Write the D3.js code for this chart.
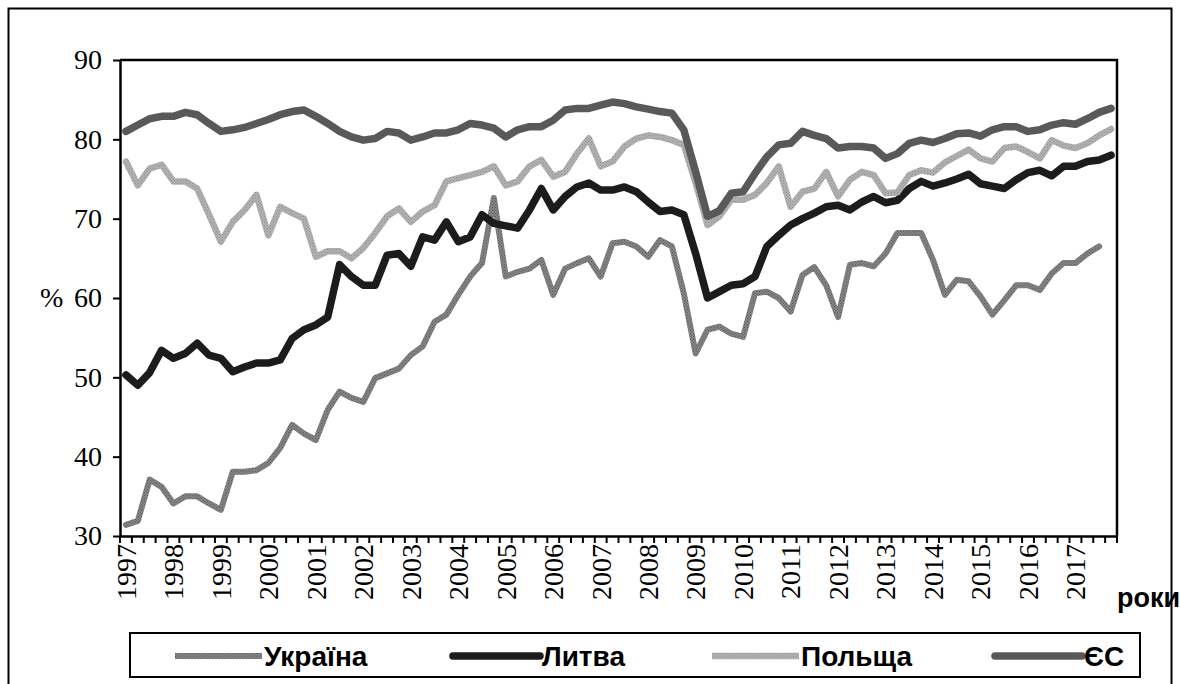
<!DOCTYPE html>
<html>
<head>
<meta charset="UTF-8">
<title></title>
<script src="https://cdn.jsdelivr.net/npm/d3@7"></script>
<style>
  body{margin:0;background:#fff;}
  .serif{font-family:"Liberation Serif","Tinos","Times New Roman","DejaVu Serif",serif;}
  .sans{font-family:"Liberation Sans",Arial,"DejaVu Sans",sans-serif;font-weight:bold;}
</style>
</head>
<body>
<div id="chart"></div>
<script>
// роки, підписи на осі X
var years=["1997","1998","1999","2000","2001","2002","2003","2004","2005","2006","2007",
  "2008","2009","2010","2011","2012","2013","2014","2015","2016","2017"];
var quarters=["I","II","III","IV"];
var yTicks=[30,40,50,60,70,80,90];

// квартальні значення, %
var ukraine=[31.4,31.9,37.1,36.2,34.1,35.0,35.0,34.1,33.3,38.1,38.1,38.3,39.2,41.1,44.0,42.9,42.1,45.9,48.2,47.4,46.9,
  49.9,50.5,51.1,52.8,53.9,57.0,57.9,60.4,62.7,64.4,72.6,62.7,63.3,63.7,64.8,60.4,63.7,64.4,65.0,62.7,66.9,
  67.1,66.5,65.2,67.3,66.5,60.6,53.0,56.0,56.4,55.5,55.1,60.6,60.8,60.0,58.3,62.9,63.9,61.6,57.6,64.2,64.4,
  64.0,65.6,68.2,68.2,68.2,64.8,60.4,62.3,62.1,60.2,57.9,59.7,61.6,61.6,61.0,63.1,64.4,64.4,65.6,66.5];
var lithuania=[50.3,49.0,50.6,53.4,52.4,53.0,54.3,52.8,52.4,50.7,51.3,51.8,51.8,52.2,54.9,56.0,56.6,57.6,64.2,62.7,61.6,
  61.6,65.4,65.6,64.0,67.7,67.3,69.6,67.1,67.7,70.5,69.4,69.1,68.8,71.1,73.8,71.1,72.8,74.0,74.5,73.6,73.6,
  74.0,73.4,72.1,70.9,71.1,70.5,65.6,60.0,60.8,61.6,61.8,62.7,66.5,67.9,69.2,70.0,70.7,71.5,71.7,71.1,72.1,
  72.8,72.0,72.3,73.8,74.7,74.1,74.5,75.0,75.6,74.4,74.1,73.8,74.9,75.8,76.1,75.4,76.6,76.6,77.2,77.4,78.0];
var poland=[77.2,74.2,76.3,76.8,74.7,74.7,73.8,70.5,67.1,69.6,71.1,73.0,67.9,71.5,70.7,70.0,65.2,65.9,65.9,65.0,66.3,
  68.2,70.3,71.3,69.6,70.9,71.7,74.7,75.1,75.5,75.9,76.6,74.2,74.7,76.6,77.4,75.3,75.9,78.2,80.1,76.6,77.2,
  79.1,80.1,80.5,80.3,79.9,79.3,74.5,69.2,70.3,72.4,72.4,73.0,74.5,76.6,71.5,73.4,73.8,75.9,72.8,74.9,75.9,
  75.5,73.2,73.3,75.5,76.1,75.8,77.1,77.9,78.7,77.6,77.2,78.9,79.1,78.4,77.6,79.9,79.2,78.9,79.5,80.5,81.3];
var eu=[81.0,81.8,82.6,82.9,82.9,83.4,83.1,82.0,81.0,81.2,81.5,82.0,82.5,83.1,83.5,83.7,82.9,82.0,81.0,80.3,79.9,
  80.1,81.0,80.8,79.9,80.3,80.8,80.8,81.2,82.0,81.8,81.4,80.3,81.2,81.6,81.6,82.4,83.7,83.9,83.9,84.3,84.7,
  84.5,84.1,83.8,83.5,83.3,81.2,75.9,70.3,71.0,73.2,73.4,75.7,77.8,79.3,79.5,81.0,80.5,80.1,78.9,79.1,79.1,
  78.9,77.6,78.2,79.5,79.9,79.6,80.1,80.7,80.8,80.4,81.2,81.6,81.6,81.0,81.2,81.8,82.1,81.9,82.6,83.4,83.9];

var seriesNames=["Україна","Литва","Польща","ЄС"];

var width=1180,height=684;
var plot={left:120,right:1117,top:60,bottom:536};

// категорії: рік + квартал
var cats=[];
years.forEach(function(y){ quarters.forEach(function(q){ cats.push(y+" "+q); }); });

var svg=d3.select("#chart").append("svg")
  .attr("width",width).attr("height",height);

// текстури для сірих ліній
var defs=svg.append("defs");
function texture(id,base,dot){
  var p=defs.append("pattern").attr("id",id).attr("patternUnits","userSpaceOnUse")
    .attr("width",3).attr("height",3);
  p.append("rect").attr("width",3).attr("height",3).attr("fill",base);
  p.append("rect").attr("x",0).attr("y",0).attr("width",1).attr("height",1).attr("fill",dot);
  p.append("rect").attr("x",1.5).attr("y",1.5).attr("width",1).attr("height",1).attr("fill",dot);
}
texture("texUkr","#858585","#5a5a5a");
texture("texPol","#b3b3b3","#8e8e8e");

// зовнішня рамка
svg.append("rect").attr("x",8.5).attr("y",8.5).attr("width",1163).attr("height",720)
  .attr("fill","none").attr("stroke","#000").attr("stroke-width",2);

var x=d3.scaleBand().domain(cats).range([plot.left,plot.right]);
var y=d3.scaleLinear().domain([30,90]).range([plot.bottom,plot.top]);

// рамка області побудови
svg.append("path")
  .attr("d","M"+plot.left+","+plot.top+"H"+plot.right+"V"+plot.bottom)
  .attr("fill","none").attr("stroke","#000").attr("stroke-width",2.5);

// вісь Y
var yAxis=d3.axisLeft(y).tickValues(yTicks).tickSize(7).tickPadding(11).tickSizeOuter(0);
var gy=svg.append("g").attr("transform","translate("+plot.left+",0)").call(yAxis)
  .attr("font-family",null).attr("font-size",null);
gy.select(".domain").attr("stroke-width",2.5);
gy.selectAll(".tick line").attr("stroke-width",2);
gy.selectAll("text").attr("class","serif").style("font-size","28px").attr("fill","#000");
svg.append("text").attr("class","serif").attr("x",40).attr("y",y(60)).attr("dy","0.32em")
  .style("font-size","28px").text("%");

// вісь X: риски на межах кварталів
var step=x.step();
var xAxis=d3.axisBottom(x).tickSize(7).tickSizeOuter(0).tickFormat("");
var gx=svg.append("g").attr("transform","translate(0,"+plot.bottom+")").call(xAxis);
gx.select(".domain").attr("stroke-width",2.5);
gx.selectAll(".tick line").attr("x1",-step/2).attr("x2",-step/2).attr("stroke-width",2);
gx.append("line").attr("x1",plot.right).attr("x2",plot.right).attr("y1",0).attr("y2",7)
  .attr("stroke","#000").attr("stroke-width",2);

// підписи років
svg.append("g").selectAll("text").data(years).enter().append("text")
  .attr("class","serif")
  .attr("transform",function(d){
    var cx=x(d+" I")+step/2;
    return "translate("+cx+","+(plot.bottom+8)+") rotate(-90)";
  })
  .attr("text-anchor","end").attr("dy","0.35em")
  .style("font-size","28px").text(function(d){return d;});

svg.append("text").attr("class","sans").attr("x",1117).attr("y",607)
  .style("font-size","27px").text("роки");

// лінії
var line=d3.line()
  .x(function(d,i){return x(cats[i])+step/2;})
  .y(function(d){return y(d);})
  .curve(d3.curveLinear);

var styles=[
  {data:ukraine,stroke:"url(#texUkr)",w:6},
  {data:lithuania,stroke:"#1c1c1c",w:7.5},
  {data:poland,stroke:"url(#texPol)",w:6.5},
  {data:eu,stroke:"#595959",w:7.5}
];

svg.append("g").selectAll("path").data(styles).enter().append("path")
  .attr("d",function(s){return line(s.data);})
  .attr("fill","none")
  .attr("stroke",function(s){return s.stroke;})
  .attr("stroke-width",function(s){return s.w;})
  .attr("stroke-linejoin","round")
  .attr("stroke-linecap","round");

// легенда
var lg=svg.append("g");
lg.append("rect").attr("x",130).attr("y",633).attr("width",1010).attr("height",44)
  .attr("fill","#fff").attr("stroke","#000").attr("stroke-width",2);
var legendX=[175,453,712,995];
var item=lg.selectAll("g").data(styles).enter().append("g")
  .attr("transform",function(d,i){return "translate("+legendX[i]+",656)";});
item.append("line").attr("x1",0).attr("x2",87).attr("y1",0).attr("y2",0)
  .attr("stroke",function(s){return s.stroke;})
  .attr("stroke-width",function(s){return s.w;})
  .attr("stroke-linecap",function(s,i){return (i==1||i==3)?"round":"butt";});
item.append("text").attr("class","sans").attr("x",89).attr("dy","0.36em")
  .style("font-size","28px")
  .text(function(d,i){return seriesNames[i];});
</script>
</body>
</html>
